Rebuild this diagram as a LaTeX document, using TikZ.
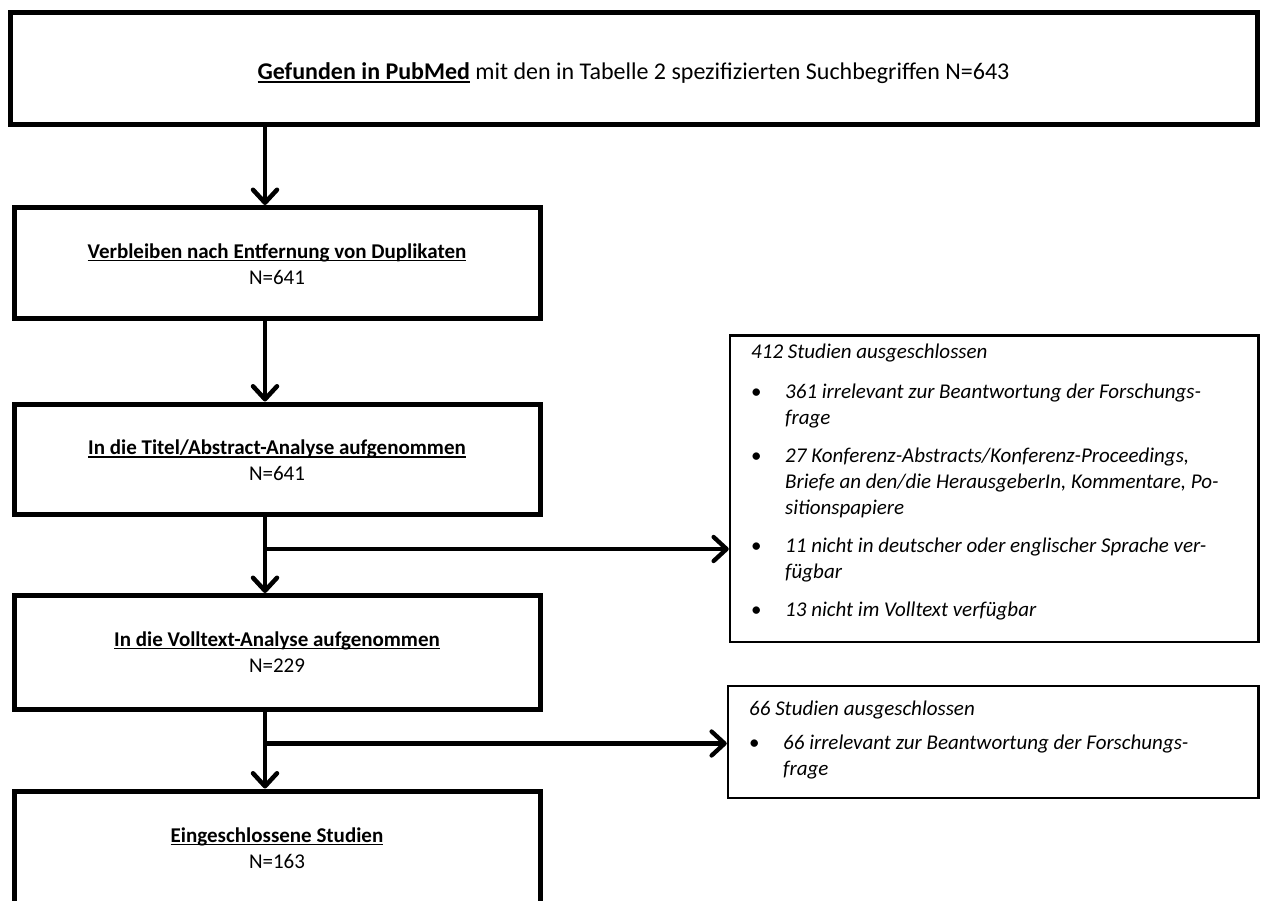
\documentclass[tikz,border=0pt]{standalone}
\usepackage{fontspec}
\setmainfont{Carlito}
\usetikzlibrary{arrows.meta}
% bold heading with a solid underline
\newcommand{\uhead}[1]{\setbox0\hbox{\bfseries #1}\rlap{\rule[-0.16em]{\wd0}{0.07em}}\box0\relax}
\begin{document}
\begin{tikzpicture}[x=1pt,y=-1pt,
  box/.style={draw=black, line width=5pt, fill=white, inner sep=0pt, anchor=north west},
  sidebox/.style={draw=black, line width=2.5pt, fill=white, inner sep=0pt, anchor=north west},
  txt/.style={inner sep=0pt, anchor=base, font=\fontsize{21}{26}\selectfont},
  itxt/.style={inner sep=0pt, anchor=base west, font=\fontsize{21}{26}\selectfont\itshape},
  flow/.style={line width=4.5pt, -{Straight Barb[length=13pt,width=24pt,round]}}]
\useasboundingbox (0,0) rectangle (1265,900);

% main column of boxes
\node[box, minimum width=1247.5pt, minimum height=112.5pt] (top) at (7.5,9.5) {};
\node[box, minimum width=526pt, minimum height=111pt] (b2) at (11.5,205) {};
\node[box, minimum width=526pt, minimum height=110pt] (b3) at (11.5,401.5) {};
\node[box, minimum width=526pt, minimum height=113.5pt] (b4) at (11.5,593) {};
\node[box, minimum width=526pt, minimum height=139pt] (b5) at (11.5,788.5) {};

% exclusion boxes
\node[sidebox, minimum width=528.5pt, minimum height=306.5pt] (x1) at (728.75,334.25) {};
\node[sidebox, minimum width=530.5pt, minimum height=112pt] (x2) at (726.75,684.75) {};

% texts of the main column
\node[inner sep=0pt, anchor=base, font=\fontsize{24}{29}\selectfont] (ttop) at (633.5,79)
  {\uhead{Gefunden in PubMed} mit den in Tabelle 2 spezifizierten Suchbegriffen N=643};
\node[txt] (h2) at (277,258) {\uhead{Verbleiben nach Entfernung von Duplikaten}};
\node[txt] (n2) at (277,284) {N=641};
\node[txt] (h3) at (277,454.5) {\uhead{In die Titel/Abstract-Analyse aufgenommen}};
\node[txt] (n3) at (277,480.5) {N=641};
\node[txt] (h4) at (277,646) {\uhead{In die Volltext-Analyse aufgenommen}};
\node[txt] (n4) at (277,672) {N=229};
\node[txt] (h5) at (277,842) {\uhead{Eingeschlossene Studien}};
\node[txt] (n5) at (277,868) {N=163};

% texts of the first exclusion box
\node[itxt] (e0) at (751,358) {412 Studien ausgeschlossen};
\node[itxt] (e1a) at (785,398) {361 irrelevant zur Beantwortung der Forschungs-};
\node[itxt] (e1b) at (785,424) {frage};
\node[itxt] (e2a) at (785,462) {27 Konferenz-Abstracts/Konferenz-Proceedings,};
\node[itxt] (e2b) at (785,488) {Briefe an den/die HerausgeberIn, Kommentare, Po-};
\node[itxt] (e2c) at (785,514) {sitionspapiere};
\node[itxt] (e3a) at (785,552) {11 nicht in deutscher oder englischer Sprache ver-};
\node[itxt] (e3b) at (785,578) {fügbar};
\node[itxt] (e4a) at (785,616) {13 nicht im Volltext verfügbar};
\foreach \yy/\nm in {398/p1,462/p2,552/p3,616/p4}
  \node[txt, anchor=base west] (\nm) at (751,\yy) {\textbullet};

% texts of the second exclusion box
\node[itxt] (f0) at (749,715) {66 Studien ausgeschlossen};
\node[itxt] (f1a) at (783,749) {66 irrelevant zur Beantwortung der Forschungs-};
\node[itxt] (f1b) at (783,775) {frage};
\node[txt, anchor=base west] (q1) at (749,749) {\textbullet};

% connectors
\coordinate (spine) at (265,0);
\coordinate (j1) at (265,549);
\coordinate (j2) at (265,743.5);
\draw[flow] (top.south -| spine) -- (b2.north -| spine);
\draw[flow] (b2.south -| spine) -- (b3.north -| spine);
\draw[flow] (b3.south -| spine) -- (b4.north -| spine);
\draw[flow] (b4.south -| spine) -- (b5.north -| spine);
\draw[flow, line width=4.3pt] (j1) -- (j1 -| x1.west);
\draw[flow, line width=4.3pt] (j2) -- (j2 -| x2.west);
\end{tikzpicture}
\end{document}
